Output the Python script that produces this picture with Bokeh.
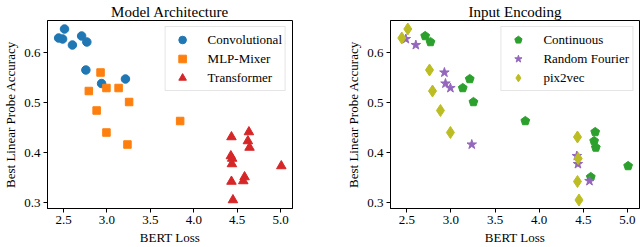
from bokeh.plotting import figure
from bokeh.layouts import row
from bokeh.models import Legend, LegendItem, FixedTicker, ColumnDataSource
from bokeh.embed import file_html
from bokeh.resources import INLINE

# ---- data: one entry per trained model ----
bert_loss = [2.443, 2.489, 2.511, 2.602, 2.708, 2.768, 2.757, 2.938, 3.213,
             2.926, 2.791, 2.994, 3.134, 3.255, 2.881, 3.843, 2.994, 3.236,
             4.434, 4.635, 4.623, 4.642, 4.427, 4.442, 4.439, 5.008, 4.434, 4.585, 4.570, 4.451]
probe_acc = [0.629, 0.627, 0.647, 0.615, 0.633, 0.621, 0.565, 0.538, 0.547,
             0.560, 0.523, 0.529, 0.529, 0.501, 0.484, 0.463, 0.440, 0.416,
             0.431, 0.441, 0.423, 0.410, 0.393, 0.388, 0.377, 0.373, 0.342, 0.351, 0.343, 0.305]
architecture = ["Convolutional"] * 9 + ["MLP-Mixer"] * 9 + ["Transformer"] * 12
encoding = ["pix2vec", "Random Fourier", "pix2vec", "Random Fourier", "Continuous", "Continuous",
            "pix2vec", "Random Fourier", "Continuous",
            "Random Fourier", "pix2vec", "Random Fourier", "Continuous", "Continuous", "pix2vec",
            "Continuous", "pix2vec", "Random Fourier",
            "pix2vec", "Continuous", "Continuous", "Continuous", "Random Fourier", "pix2vec",
            "Random Fourier", "Continuous", "pix2vec", "Continuous", "Random Fourier", "pix2vec"]

arch_names = ["Convolutional", "MLP-Mixer", "Transformer"]
enc_names = ["Continuous", "Random Fourier", "pix2vec"]

x_ticks = [2.5, 3.0, 3.5, 4.0, 4.5, 5.0]
x_tick_labels = ["2.5", "3.0", "3.5", "4.0", "4.5", "5.0"]
y_ticks = [0.3, 0.4, 0.5, 0.6]
y_tick_labels = ["0.3", "0.4", "0.5", "0.6"]

# ---- styles ----
arch_style = {
    "Convolutional": dict(color="#1f77b4", marker="circle", size=8.5),
    "MLP-Mixer": dict(color="#ff7f0e", marker="square", size=7.5),
    "Transformer": dict(color="#d62728", marker="triangle", size=9.5),
}
enc_style = {
    "Continuous": dict(color="#2ca02c", marker="ngon", size=4.6),
    "Random Fourier": dict(color="#9467bd", marker="star", size=10),
    "pix2vec": dict(color="#bcbd22", marker="diamond", size=12),
}

FONT = "Liberation Serif"
FIG_H = 247


def subset(key_list, name):
    idx = [i for i, k in enumerate(key_list) if k == name]
    return ColumnDataSource(dict(x=[bert_loss[i] for i in idx], y=[probe_acc[i] for i in idx]))


def make_fig(title, width, left, right):
    p = figure(width=width, height=FIG_H, output_backend="svg", toolbar_location=None,
               x_range=(2.315, 5.137), y_range=(0.288, 0.664),
               min_border_left=left, min_border_right=right, min_border_top=19, min_border_bottom=35)
    p.title.text = title
    p.title.align = "center"
    p.title.text_font = FONT
    p.title.text_font_style = "normal"
    p.title.text_font_size = "15px"
    p.title.text_color = "black"
    p.title.standoff = 2
    p.title.offset = 0
    p.xgrid.visible = False
    p.ygrid.visible = False
    p.outline_line_color = "black"
    p.outline_line_width = 1
    p.background_fill_color = "white"
    p.border_fill_color = "white"
    for ax, ticks, labels in ((p.xaxis[0], x_ticks, x_tick_labels), (p.yaxis[0], y_ticks, y_tick_labels)):
        ax.ticker = FixedTicker(ticks=ticks)
        ax.major_label_overrides = {t: l for t, l in zip(ticks, labels)}
        ax.minor_tick_line_color = None
        ax.major_tick_in = 0
        ax.major_tick_out = 4
        ax.major_tick_line_color = "black"
        ax.axis_line_color = "black"
        ax.major_label_text_font = FONT
        ax.major_label_text_font_size = "13px"
        ax.major_label_text_color = "black"
        ax.major_label_standoff = 3
        ax.axis_label_text_font = FONT
        ax.axis_label_text_font_size = "13px"
        ax.axis_label_text_font_style = "normal"
        ax.axis_label_text_color = "black"
        ax.axis_label_standoff = 3
    p.xaxis.axis_label = "BERT Loss"
    p.yaxis.axis_label = "Best Linear Probe Accuracy"
    return p


def add_legend(p, items):
    lg = Legend(items=items, location="top_right")
    lg.margin = 6
    lg.padding = 3
    lg.spacing = 0
    lg.glyph_width = 27
    lg.glyph_height = 19
    lg.label_height = 19
    lg.label_standoff = 12
    lg.label_text_font = FONT
    lg.label_text_font_size = "13px"
    lg.label_text_color = "black"
    lg.border_line_color = "#cccccc"
    lg.border_line_width = 1
    lg.background_fill_alpha = 0.8
    p.add_layout(lg)


p1 = make_fig("Model Architecture", 320, 43, 28)
items1 = []
for name in arch_names:
    st = arch_style[name]
    r = p1.scatter("x", "y", source=subset(architecture, name), marker=st["marker"], size=st["size"],
                   fill_color=st["color"], line_color=st["color"])
    items1.append(LegendItem(label=name, renderers=[r]))
add_legend(p1, items1)

p2 = make_fig("Input Encoding", 320, 70, 1)
items2 = []
for name in enc_names:
    st = enc_style[name]
    src = subset(encoding, name)
    if st["marker"] == "ngon":
        r = p2.ngon("x", "y", source=src, radius=st["size"], radius_units="screen", n=5,
                    fill_color=st["color"], line_color=st["color"])
    else:
        r = p2.scatter("x", "y", source=src, marker=st["marker"], size=st["size"],
                       fill_color=st["color"], line_color=st["color"])
    items2.append(LegendItem(label=name, renderers=[r]))
add_legend(p2, items2)

layout = row(p1, p2)
open("out.html", "w").write(file_html(layout, INLINE))
